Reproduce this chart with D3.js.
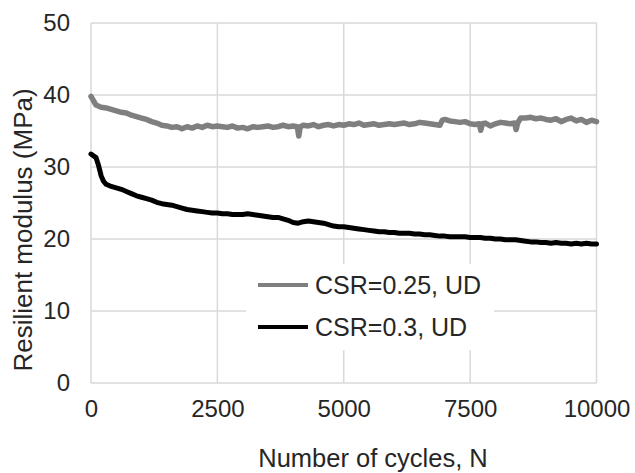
<!DOCTYPE html>
<html>
<head>
<meta charset="utf-8">
<script src="https://cdn.jsdelivr.net/npm/d3@7"></script>
<style>
  html, body { margin: 0; padding: 0; background: #fff; }
  svg { display: block; }
  text { font-family: "Liberation Sans", Arial, sans-serif; fill: #262626; }
</style>
</head>
<body>
<svg id="chart" width="635" height="473"></svg>
<script>
// ---- data ----
const xTicks = [0, 2500, 5000, 7500, 10000];
const yTicks = [0, 10, 20, 30, 40, 50];
const seriesNames = ["CSR=0.25, UD", "CSR=0.3, UD"];

const cyclesA = [0, 100, 200, 300, 400, 500, 600, 700, 800, 900,
  1000, 1100, 1200, 1300, 1400, 1500, 1600, 1700, 1800, 1900,
  2000, 2100, 2200, 2300, 2400, 2500, 2600, 2700, 2800, 2900,
  3000, 3100, 3200, 3300, 3400, 3500, 3600, 3700, 3800, 3900,
  4000, 4080, 4110, 4140, 4200, 4300, 4400, 4500, 4600, 4700, 4800, 4900,
  5000, 5100, 5200, 5300, 5400, 5500, 5600, 5700, 5800, 5900,
  6000, 6100, 6200, 6300, 6400, 6500, 6600, 6700, 6800, 6900,
  6950, 7000, 7100, 7200, 7300, 7400, 7500, 7600, 7680, 7710, 7740, 7800, 7900,
  8000, 8100, 8200, 8300, 8380, 8410, 8440, 8500, 8600, 8700, 8800, 8900,
  9000, 9100, 9200, 9300, 9400, 9500, 9600, 9700, 9800, 9900, 10000];
const modulusA = [39.8, 38.6, 38.3, 38.2, 38.0, 37.8, 37.6, 37.5, 37.2, 37.0,
  36.8, 36.6, 36.3, 36.1, 35.8, 35.7, 35.5, 35.6, 35.3, 35.6,
  35.4, 35.7, 35.5, 35.8, 35.6, 35.7, 35.6, 35.5, 35.7, 35.4,
  35.5, 35.3, 35.6, 35.5, 35.6, 35.7, 35.5, 35.6, 35.8, 35.6,
  35.7, 35.6, 34.3, 35.6, 35.8, 35.7, 35.9, 35.6, 35.8, 35.9, 35.7, 35.9,
  35.8, 36.0, 35.9, 36.1, 35.8, 35.9, 36.0, 35.8, 35.9, 36.0,
  35.9, 36.0, 36.1, 35.9, 36.0, 36.2, 36.1, 36.0, 35.9, 35.8,
  36.5, 36.6, 36.4, 36.3, 36.2, 36.3, 36.0, 35.9, 36.0, 35.1, 36.0, 36.1, 35.7,
  36.0, 36.2, 36.1, 36.0, 36.1, 35.2, 36.1, 36.8, 36.8, 36.9, 36.7, 36.8,
  36.6, 36.5, 36.7, 36.3, 36.6, 36.8, 36.4, 36.6, 36.2, 36.5, 36.3];

const cyclesB = [0, 100, 150, 200, 250, 300, 400, 500, 600, 700, 800, 900,
  1000, 1100, 1200, 1300, 1400, 1500, 1600, 1700, 1800, 1900,
  2000, 2100, 2200, 2300, 2400, 2500, 2600, 2700, 2800, 2900,
  3000, 3100, 3200, 3300, 3400, 3500, 3600, 3700, 3800, 3900,
  4000, 4100, 4200, 4300, 4400, 4500, 4600, 4700, 4800, 4900,
  5000, 5100, 5200, 5300, 5400, 5500, 5600, 5700, 5800, 5900,
  6000, 6100, 6200, 6300, 6400, 6500, 6600, 6700, 6800, 6900,
  7000, 7100, 7200, 7300, 7400, 7500, 7600, 7700, 7800, 7900,
  8000, 8100, 8200, 8300, 8400, 8500, 8600, 8700, 8800, 8900,
  9000, 9100, 9200, 9300, 9400, 9500, 9600, 9700, 9800, 9900, 10000];
const modulusB = [31.8, 31.3, 30.2, 28.8, 28.0, 27.6, 27.3, 27.1, 26.9, 26.6, 26.3, 26.0,
  25.8, 25.6, 25.4, 25.1, 24.9, 24.8, 24.7, 24.5, 24.3, 24.1,
  24.0, 23.9, 23.8, 23.7, 23.6, 23.6, 23.5, 23.5, 23.4, 23.4,
  23.4, 23.5, 23.4, 23.3, 23.2, 23.1, 23.0, 23.0, 22.8, 22.6,
  22.3, 22.2, 22.4, 22.5, 22.4, 22.3, 22.2, 22.0, 21.8, 21.7,
  21.7, 21.6, 21.5, 21.4, 21.3, 21.2, 21.1, 21.0, 21.0, 20.9,
  20.9, 20.8, 20.8, 20.8, 20.7, 20.7, 20.6, 20.6, 20.5, 20.4,
  20.4, 20.3, 20.3, 20.3, 20.3, 20.2, 20.2, 20.2, 20.1, 20.1,
  20.0, 20.0, 19.9, 19.9, 19.9, 19.8, 19.7, 19.6, 19.6, 19.5,
  19.5, 19.4, 19.5, 19.4, 19.4, 19.3, 19.4, 19.3, 19.4, 19.3, 19.3];

// ---- chart ----
const svg = d3.select("#chart");
const pLeft = 91, pRight = 596.5, pTop = 23, pBottom = 383;
const x = d3.scaleLinear().domain([0, 10000]).range([pLeft, pRight]);
const y = d3.scaleLinear().domain([0, 50]).range([pBottom, pTop]);
const gridColor = "#d9d9d9";

// gridlines
svg.append("g").selectAll("line").data(yTicks).join("line")
  .attr("x1", pLeft).attr("x2", pRight)
  .attr("y1", d => y(d)).attr("y2", d => y(d))
  .attr("stroke", gridColor).attr("stroke-width", 1.5);
svg.append("g").selectAll("line").data(xTicks).join("line")
  .attr("x1", d => x(d)).attr("x2", d => x(d))
  .attr("y1", pTop).attr("y2", pBottom)
  .attr("stroke", gridColor).attr("stroke-width", 1.5);

// axes (labels only)
const yAxis = d3.axisLeft(y).tickValues(yTicks).tickSize(0).tickPadding(21);
const gy = svg.append("g").attr("transform", `translate(${pLeft},0)`).call(yAxis);
gy.select(".domain").remove();
gy.selectAll("text").attr("font-size", 24).attr("fill", "#262626")
  .attr("font-family", "Liberation Sans, Arial, sans-serif");

const xAxis = d3.axisBottom(x).tickValues(xTicks).tickFormat(d3.format("d"))
  .tickSize(0).tickPadding(17);
const gx = svg.append("g").attr("transform", `translate(0,${pBottom})`).call(xAxis);
gx.select(".domain").remove();
gx.selectAll("text").attr("font-size", 24).attr("fill", "#262626")
  .attr("font-family", "Liberation Sans, Arial, sans-serif");

// axis titles
svg.append("text").attr("x", 373).attr("y", 467)
  .attr("text-anchor", "middle").attr("font-size", 25.5)
  .text("Number of cycles, N");
svg.append("text").attr("transform", "translate(32,230) rotate(-90)")
  .attr("text-anchor", "middle").attr("font-size", 26)
  .text("Resilient modulus (MPa)");

// series
const line = d3.line().x(d => x(d[0])).y(d => y(d[1]));
const dataA = cyclesA.map((c, i) => [c, modulusA[i]]);
const dataB = cyclesB.map((c, i) => [c, modulusB[i]]);
svg.append("path").datum(dataA).attr("d", line)
  .attr("fill", "none").attr("stroke", "#7f7f7f").attr("stroke-width", 5.5)
  .attr("stroke-linejoin", "round").attr("stroke-linecap", "round");
svg.append("path").datum(dataB).attr("d", line)
  .attr("fill", "none").attr("stroke", "#000").attr("stroke-width", 5)
  .attr("stroke-linejoin", "round").attr("stroke-linecap", "round");

// legend
const lg = svg.append("g");
lg.append("rect").attr("x", 246).attr("y", 264).attr("width", 248).attr("height", 86)
  .attr("fill", "#fff");
const legendColors = ["#7f7f7f", "#000"];
seriesNames.forEach((name, i) => {
  const cy = 285 + i * 42;
  lg.append("line").attr("x1", 258).attr("x2", 308).attr("y1", cy).attr("y2", cy)
    .attr("stroke", legendColors[i]).attr("stroke-width", 4);
  lg.append("text").attr("x", 315).attr("y", cy).attr("dy", "0.35em")
    .attr("font-size", 25).text(name);
});
</script>
</body>
</html>
